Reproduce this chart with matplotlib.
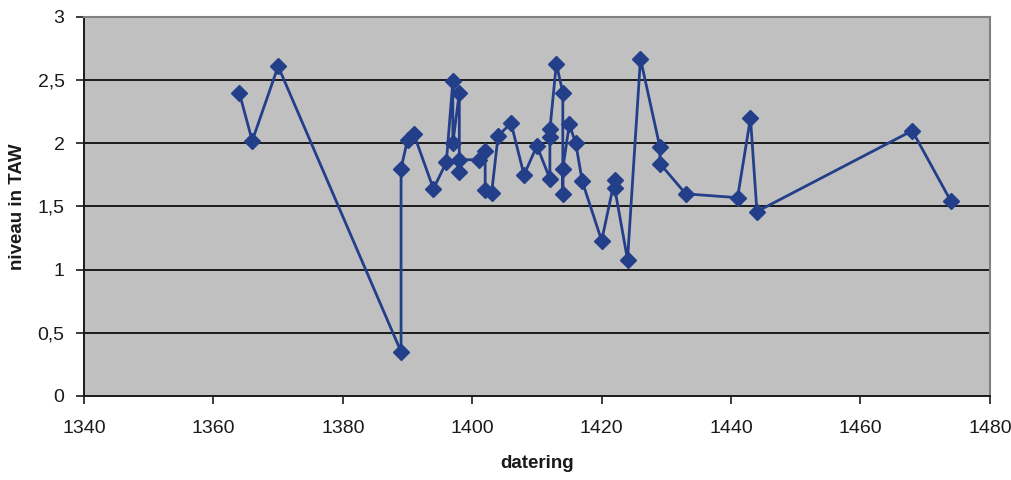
import matplotlib
matplotlib.use("Agg")
import matplotlib.pyplot as plt

plt.rcParams["font.family"] = ["Liberation Sans", "DejaVu Sans"]

# dating (year) and level in TAW, in data order
years = [1364, 1366, 1370, 1389, 1389, 1390, 1391, 1394, 1396, 1397,
         1397, 1398, 1398, 1398, 1401, 1402, 1402, 1403, 1404, 1406,
         1408, 1410, 1412, 1412, 1412, 1413, 1414, 1414, 1414, 1415,
         1416, 1417, 1420, 1422, 1422, 1424, 1426, 1429, 1429, 1433,
         1441, 1443, 1444, 1468, 1474]
levels = [2.40, 2.02, 2.61, 0.35, 1.80, 2.03, 2.07, 1.64, 1.85, 2.49,
          2.00, 2.40, 1.77, 1.87, 1.87, 1.94, 1.63, 1.61, 2.06, 2.16,
          1.75, 1.98, 1.72, 2.05, 2.11, 2.63, 2.40, 1.60, 1.80, 2.15,
          2.00, 1.70, 1.23, 1.71, 1.65, 1.08, 2.67, 1.97, 1.84, 1.60,
          1.57, 2.20, 1.46, 2.10, 1.54]

x_ticks = [1340, 1360, 1380, 1400, 1420, 1440, 1460, 1480]
y_ticks = [0, 0.5, 1, 1.5, 2, 2.5, 3]
y_ticklabels = ["0", "0,5", "1", "1,5", "2", "2,5", "3"]

LINE_COLOR = "#243F8A"

fig = plt.figure(figsize=(10.11, 4.80), dpi=100)
ax = fig.add_axes([0.0831, 0.175, 0.8960, 0.7896])
ax.set_facecolor("#C0C0C0")

ax.plot(years, levels, color=LINE_COLOR, linewidth=2, marker="D",
        markersize=8, markerfacecolor=LINE_COLOR, markeredgecolor=LINE_COLOR,
        zorder=3)

ax.set_xlim(1340, 1480)
ax.set_ylim(0, 3)
ax.set_xticks(x_ticks)
ax.set_yticks(y_ticks)
ax.set_yticklabels(y_ticklabels)

for y in y_ticks[1:]:
    ax.axhline(y, color="#1a1a1a", linewidth=1.4, zorder=1)

for side in ["top", "right"]:
    ax.spines[side].set_color("#808080")
    ax.spines[side].set_linewidth(1.5)
for side in ["left", "bottom"]:
    ax.spines[side].set_color("#1a1a1a")
    ax.spines[side].set_linewidth(1.4)

ax.tick_params(axis="both", direction="out", length=6, width=1.2,
               color="#1a1a1a", labelsize=14, labelcolor="#1a1a1a")
ax.tick_params(axis="x", pad=11)
ax.tick_params(axis="y", pad=8)

ax.set_xlabel("datering", fontsize=13.5, fontweight="bold", color="#1a1a1a",
              labelpad=13)
ax.set_ylabel("niveau in TAW", fontsize=13.5, fontweight="bold",
              color="#1a1a1a", labelpad=8)

fig.savefig("out.png", dpi=100)
